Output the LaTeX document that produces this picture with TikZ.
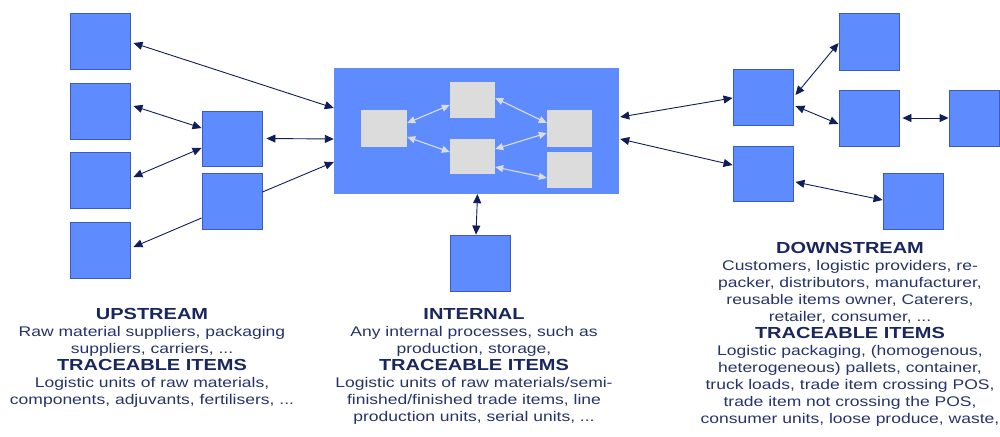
\documentclass[tikz,border=0pt]{standalone}
\usepackage{fontspec}
\setmainfont{Liberation Sans}
\usetikzlibrary{arrows.meta,calc}
\definecolor{boxblue}{HTML}{5E8CFF}
\definecolor{boxedge}{HTML}{3A5CC0}
\definecolor{navy}{HTML}{0F1E5A}
\definecolor{txtnavy}{HTML}{26336A}
\definecolor{hdnavy}{HTML}{1A265E}
\definecolor{procgray}{HTML}{DCDCDC}
\newcommand{\hd}[1]{{\fontsize{16}{17}\selectfont\bfseries\color{hdnavy}#1}}
\tikzset{
  party/.style={draw=boxedge, line width=0.9pt, fill=boxblue, inner sep=0pt,
    minimum width=60pt, minimum height=56pt},
  proc/.style={fill=procgray, inner sep=0pt, minimum width=45pt, minimum height=36pt},
  arr/.style={draw=navy, line width=0.9pt, {Triangle[length=9pt,width=8pt]}-{Triangle[length=9pt,width=8pt]}},
  arrone/.style={draw=navy, line width=0.9pt, -{Triangle[length=9pt,width=8pt]}},
  garr/.style={draw=procgray, line width=1.1pt, {Triangle[length=8pt,width=7pt]}-{Triangle[length=8pt,width=7pt]}},
  txt/.style={align=center, inner sep=0pt, xscale=1.25, text=txtnavy,
    font=\fontsize{14}{17}\selectfont},
}
\begin{document}
\begin{tikzpicture}[x=1pt,y=-1pt]
\useasboundingbox (0,0) rectangle (1000,436);

% upstream partners
\node[party] (u1) at (100,41) {};
\node[party] (u2) at (100,111) {};
\node[party] (u3) at (100,180) {};
\node[party] (u4) at (100,250) {};
\node[party, minimum height=55pt] (ua) at (232,138.5) {};
\node[party] (ub) at (232,201) {};

% internal company with its processes
\node[fill=boxblue, inner sep=0pt, minimum width=285pt, minimum height=126pt] (m) at (476.5,131) {};
\node[proc, minimum width=46pt, minimum height=37pt] (g1) at (384,128.5) {};
\node[proc] (g2) at (472.5,100) {};
\node[proc, minimum height=35pt] (g3) at (472.5,156) {};
\node[proc, minimum height=37pt] (g4) at (569.5,128.5) {};
\node[proc] (g5) at (569.5,170) {};
\node[party] (c) at (480,263) {};

% downstream partners
\node[party] (r1) at (763,97) {};
\node[party, minimum height=55pt] (r2) at (763,173.5) {};
\node[party, minimum height=57pt] (r3) at (869,41.5) {};
\node[party] (r4) at (869,118) {};
\node[party, minimum width=50pt] (r5) at (974,118) {};
\node[party] (r6) at (913,201) {};

% upstream links
\draw[arr] ($(u1.east)+(3,2)$) -- ($(m.west)+(0,-23)$);
\draw[arr] ($(u2.east)+(3,-5)$) -- ($(ua.west)+(0,-10.5)$);
\draw[arr] ($(u3.east)+(3,-3)$) -- ($(ua.west)+(0,9.5)$);
\draw[arr] ($(ua.east)+(4,0)$) -- ($(m.west)+(0,8)$);
\draw[arrone] ($(ub.east)+(0,-9)$) -- ($(m.west)+(0,31)$);
\draw[arrone] ($(ub.west)+(0,17)$) -- ($(u4.east)+(3,-3)$);

% internal links
\draw[arr] ($(m.south)+(1,0)$) -- ($(c.north)+(-4,0)$);
\draw[garr] ($(g1.east)+(0,-5.5)$) -- ($(g2.west)+(0,5)$);
\draw[garr] ($(g1.east)+(0,8.5)$) -- ($(g3.west)+(0,-4)$);
\draw[garr] ($(g2.east)+(0,-2)$) -- ($(g4.west)+(0,-5.5)$);
\draw[garr] ($(g3.east)+(0,-7)$) -- ($(g4.west)+(0,4.5)$);
\draw[garr] ($(g3.east)+(0,11)$) -- ($(g5.west)+(0,8)$);

% downstream links
\draw[arr] ($(m.east)+(1,-14)$) -- ($(r1.west)+(0,1)$);
\draw[arr] ($(m.east)+(1,8)$) -- ($(r2.west)+(0,-8.5)$);
\draw[arr] ($(r1.east)+(2,-2)$) -- ($(r3.west)+(0,1.5)$);
\draw[arr] ($(r1.east)+(2,9)$) -- ($(r4.west)+(0,6)$);
\draw[arr] ($(r4.east)+(3,0)$) -- (r5.west);
\draw[arr] ($(r2.east)+(2,8.5)$) -- ($(r6.west)+(0,-1)$);

% captions
\node[txt, anchor=north] (tup) at (152,308.5) {\hd{UPSTREAM}\\
  Raw material suppliers, packaging\\
  suppliers, carriers, ...\\
  \hd{TRACEABLE ITEMS}\\
  Logistic units of raw materials,\\
  components, adjuvants, fertilisers, ...};
\node[txt, anchor=north] (tin) at (474,308.5) {\hd{INTERNAL}\\
  Any internal processes, such as\\
  production, storage,\\
  \hd{TRACEABLE ITEMS}\\
  Logistic units of raw materials/semi-\\
  finished/finished trade items, line\\
  production units, serial units, ...};
\node[txt, anchor=north] (tdn) at (850,242.5) {\hd{DOWNSTREAM}\\
  Customers, logistic providers, re-\\
  packer, distributors, manufacturer,\\
  reusable items owner, Caterers,\\
  retailer, consumer, ...\\
  \hd{TRACEABLE ITEMS}\\
  Logistic packaging, (homogenous,\\
  heterogeneous) pallets, container,\\
  truck loads, trade item crossing POS,\\
  trade item not crossing the POS,\\
  consumer units, loose produce, waste,};
\end{tikzpicture}
\end{document}
